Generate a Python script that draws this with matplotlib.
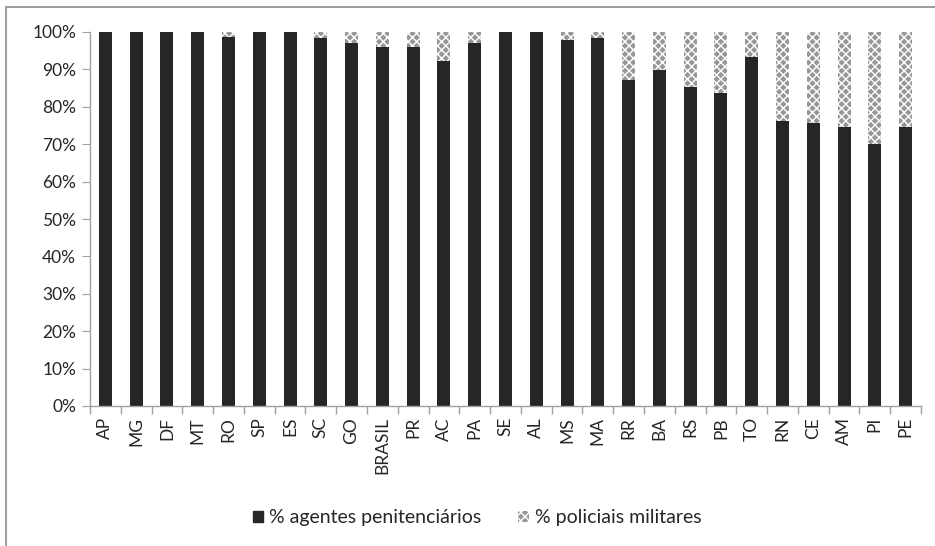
import numpy as np
import matplotlib
matplotlib.use('Agg')
import matplotlib.pyplot as plt
from matplotlib.patches import Rectangle, Patch
from matplotlib.ticker import PercentFormatter, FixedLocator

plt.rcParams['font.family'] = ['Lato', 'DejaVu Sans']
plt.rcParams['hatch.linewidth'] = 1.0

# categorias e % de agentes penitenciarios (restante = policiais militares)
states = ['AP', 'MG', 'DF', 'MT', 'RO', 'SP', 'ES', 'SC', 'GO', 'BRASIL', 'PR', 'AC', 'PA',
          'SE', 'AL', 'MS', 'MA', 'RR', 'BA', 'RS', 'PB', 'TO', 'RN', 'CE', 'AM', 'PI', 'PE']
agentes = [100.0, 100.0, 100.0, 100.0, 98.7, 100.0, 100.0, 98.3, 97.0, 96.1, 96.1, 92.2, 97.0,
           100.0, 100.0, 97.9, 98.5, 87.2, 89.8, 85.4, 83.6, 93.4, 76.2, 75.6, 74.7, 70.0, 74.7]
policiais = [100 - a for a in agentes]

black = '#262626'
grey = '#979797'

fig = plt.figure(figsize=(9.35, 5.46), dpi=100)
ax = fig.add_axes([90 / 935, 1 - 406 / 546, (921 - 90) / 935, (406 - 32) / 546])

x = np.arange(len(states))
ax.bar(x, np.array(agentes) / 100, width=0.42, color=black, linewidth=0)
ax.bar(x, np.array(policiais) / 100, width=0.42, bottom=np.array(agentes) / 100,
       facecolor=grey, edgecolor='white', hatch='xxxx', linewidth=0)

ax.set_ylim(0, 1)
ax.set_xlim(-0.5, len(states) - 0.5)
ax.set_yticks(np.arange(0, 1.01, 0.1))
ax.yaxis.set_major_formatter(PercentFormatter(1.0, decimals=0))

ax.set_xticks(x)
ax.set_xticklabels(states, rotation=90)
ax.xaxis.set_minor_locator(FixedLocator(np.arange(-0.5, len(states), 1)))
ax.tick_params(axis='x', which='major', length=0, pad=8, labelsize=12.5, colors='#262626')
ax.tick_params(axis='x', which='minor', length=6, color='#a0a0a0', width=1)
ax.tick_params(axis='y', length=6, color='#a0a0a0', labelsize=12.5, labelcolor='#262626', pad=4)

for s in ['top', 'right']:
    ax.spines[s].set_visible(False)
for s in ['left', 'bottom']:
    ax.spines[s].set_color('#a0a0a0')
    ax.spines[s].set_linewidth(1)

# moldura externa do grafico
fig.patches.append(Rectangle((6 / 935, -0.1), 2, 1 - 7 / 546 + 0.1, transform=fig.transFigure,
                             fill=False, edgecolor='#8c8c8c', linewidth=1.2))

handles = [Patch(facecolor=black, edgecolor=black),
           Patch(facecolor=grey, edgecolor='white', hatch='xxxx', linewidth=0)]
fig.legend(handles, ['% agentes penitenciários', '% policiais militares'],
           loc='center', bbox_to_anchor=(477 / 935, 1 - 518 / 546), ncol=2, frameon=False,
           fontsize=14, handlelength=0.55, handleheight=0.55, handletextpad=0.3, columnspacing=1.9,
           labelcolor='#262626')

fig.savefig('out.png', dpi=100)
